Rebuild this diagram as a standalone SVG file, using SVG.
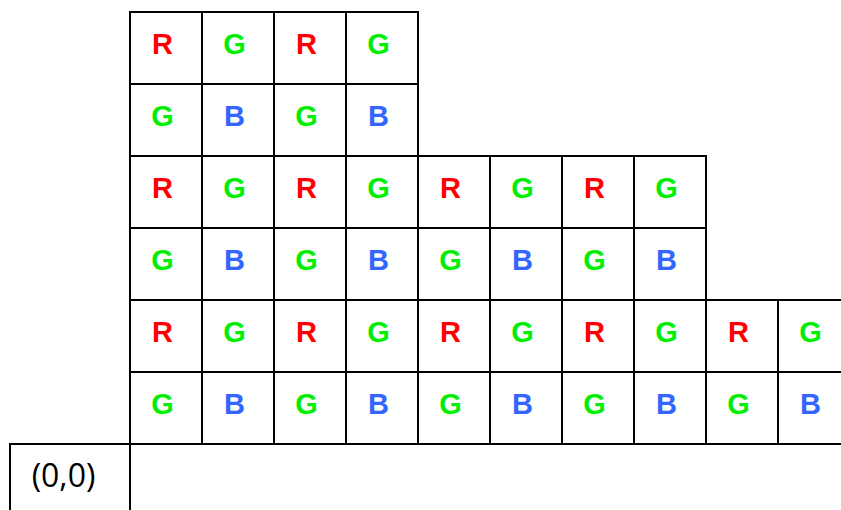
<svg xmlns="http://www.w3.org/2000/svg" width="841" height="510" viewBox="0 0 841 510">
<style>
.c{fill:#fff;stroke:#000;stroke-width:2}
.t{font-family:"Liberation Sans",Arial,sans-serif;font-weight:bold;font-size:29px;text-anchor:middle}
.R{fill:#ff0000}.G{fill:#00f000}.B{fill:#3366ff}
.o{font-family:"Open Sans","Liberation Sans",sans-serif;font-size:32px;text-anchor:middle;fill:#000}
</style>
<rect width="841" height="510" fill="#fff"/>
<g id="origin"><rect class="c" x="10" y="444" width="120" height="80"/><text class="o" x="63.5" y="487">(0,0)</text></g>
<g id="base"><rect class="c" x="130" y="444" width="730" height="80"/></g>
<g id="r0c0"><rect class="c" x="130" y="12" width="72" height="72"/><text class="t R" x="162.5" y="54">R</text></g>
<g id="r0c1"><rect class="c" x="202" y="12" width="72" height="72"/><text class="t G" x="234.5" y="54">G</text></g>
<g id="r0c2"><rect class="c" x="274" y="12" width="72" height="72"/><text class="t R" x="306.5" y="54">R</text></g>
<g id="r0c3"><rect class="c" x="346" y="12" width="72" height="72"/><text class="t G" x="378.5" y="54">G</text></g>
<g id="r1c0"><rect class="c" x="130" y="84" width="72" height="72"/><text class="t G" x="162.5" y="126">G</text></g>
<g id="r1c1"><rect class="c" x="202" y="84" width="72" height="72"/><text class="t B" x="234.5" y="126">B</text></g>
<g id="r1c2"><rect class="c" x="274" y="84" width="72" height="72"/><text class="t G" x="306.5" y="126">G</text></g>
<g id="r1c3"><rect class="c" x="346" y="84" width="72" height="72"/><text class="t B" x="378.5" y="126">B</text></g>
<g id="r2c0"><rect class="c" x="130" y="156" width="72" height="72"/><text class="t R" x="162.5" y="198">R</text></g>
<g id="r2c1"><rect class="c" x="202" y="156" width="72" height="72"/><text class="t G" x="234.5" y="198">G</text></g>
<g id="r2c2"><rect class="c" x="274" y="156" width="72" height="72"/><text class="t R" x="306.5" y="198">R</text></g>
<g id="r2c3"><rect class="c" x="346" y="156" width="72" height="72"/><text class="t G" x="378.5" y="198">G</text></g>
<g id="r2c4"><rect class="c" x="418" y="156" width="72" height="72"/><text class="t R" x="450.5" y="198">R</text></g>
<g id="r2c5"><rect class="c" x="490" y="156" width="72" height="72"/><text class="t G" x="522.5" y="198">G</text></g>
<g id="r2c6"><rect class="c" x="562" y="156" width="72" height="72"/><text class="t R" x="594.5" y="198">R</text></g>
<g id="r2c7"><rect class="c" x="634" y="156" width="72" height="72"/><text class="t G" x="666.5" y="198">G</text></g>
<g id="r3c0"><rect class="c" x="130" y="228" width="72" height="72"/><text class="t G" x="162.5" y="270">G</text></g>
<g id="r3c1"><rect class="c" x="202" y="228" width="72" height="72"/><text class="t B" x="234.5" y="270">B</text></g>
<g id="r3c2"><rect class="c" x="274" y="228" width="72" height="72"/><text class="t G" x="306.5" y="270">G</text></g>
<g id="r3c3"><rect class="c" x="346" y="228" width="72" height="72"/><text class="t B" x="378.5" y="270">B</text></g>
<g id="r3c4"><rect class="c" x="418" y="228" width="72" height="72"/><text class="t G" x="450.5" y="270">G</text></g>
<g id="r3c5"><rect class="c" x="490" y="228" width="72" height="72"/><text class="t B" x="522.5" y="270">B</text></g>
<g id="r3c6"><rect class="c" x="562" y="228" width="72" height="72"/><text class="t G" x="594.5" y="270">G</text></g>
<g id="r3c7"><rect class="c" x="634" y="228" width="72" height="72"/><text class="t B" x="666.5" y="270">B</text></g>
<g id="r4c0"><rect class="c" x="130" y="300" width="72" height="72"/><text class="t R" x="162.5" y="342">R</text></g>
<g id="r4c1"><rect class="c" x="202" y="300" width="72" height="72"/><text class="t G" x="234.5" y="342">G</text></g>
<g id="r4c2"><rect class="c" x="274" y="300" width="72" height="72"/><text class="t R" x="306.5" y="342">R</text></g>
<g id="r4c3"><rect class="c" x="346" y="300" width="72" height="72"/><text class="t G" x="378.5" y="342">G</text></g>
<g id="r4c4"><rect class="c" x="418" y="300" width="72" height="72"/><text class="t R" x="450.5" y="342">R</text></g>
<g id="r4c5"><rect class="c" x="490" y="300" width="72" height="72"/><text class="t G" x="522.5" y="342">G</text></g>
<g id="r4c6"><rect class="c" x="562" y="300" width="72" height="72"/><text class="t R" x="594.5" y="342">R</text></g>
<g id="r4c7"><rect class="c" x="634" y="300" width="72" height="72"/><text class="t G" x="666.5" y="342">G</text></g>
<g id="r4c8"><rect class="c" x="706" y="300" width="72" height="72"/><text class="t R" x="738.5" y="342">R</text></g>
<g id="r4c9"><rect class="c" x="778" y="300" width="72" height="72"/><text class="t G" x="810.5" y="342">G</text></g>
<g id="r5c0"><rect class="c" x="130" y="372" width="72" height="72"/><text class="t G" x="162.5" y="414">G</text></g>
<g id="r5c1"><rect class="c" x="202" y="372" width="72" height="72"/><text class="t B" x="234.5" y="414">B</text></g>
<g id="r5c2"><rect class="c" x="274" y="372" width="72" height="72"/><text class="t G" x="306.5" y="414">G</text></g>
<g id="r5c3"><rect class="c" x="346" y="372" width="72" height="72"/><text class="t B" x="378.5" y="414">B</text></g>
<g id="r5c4"><rect class="c" x="418" y="372" width="72" height="72"/><text class="t G" x="450.5" y="414">G</text></g>
<g id="r5c5"><rect class="c" x="490" y="372" width="72" height="72"/><text class="t B" x="522.5" y="414">B</text></g>
<g id="r5c6"><rect class="c" x="562" y="372" width="72" height="72"/><text class="t G" x="594.5" y="414">G</text></g>
<g id="r5c7"><rect class="c" x="634" y="372" width="72" height="72"/><text class="t B" x="666.5" y="414">B</text></g>
<g id="r5c8"><rect class="c" x="706" y="372" width="72" height="72"/><text class="t G" x="738.5" y="414">G</text></g>
<g id="r5c9"><rect class="c" x="778" y="372" width="72" height="72"/><text class="t B" x="810.5" y="414">B</text></g>
<g id="connectors"></g>
</svg>
